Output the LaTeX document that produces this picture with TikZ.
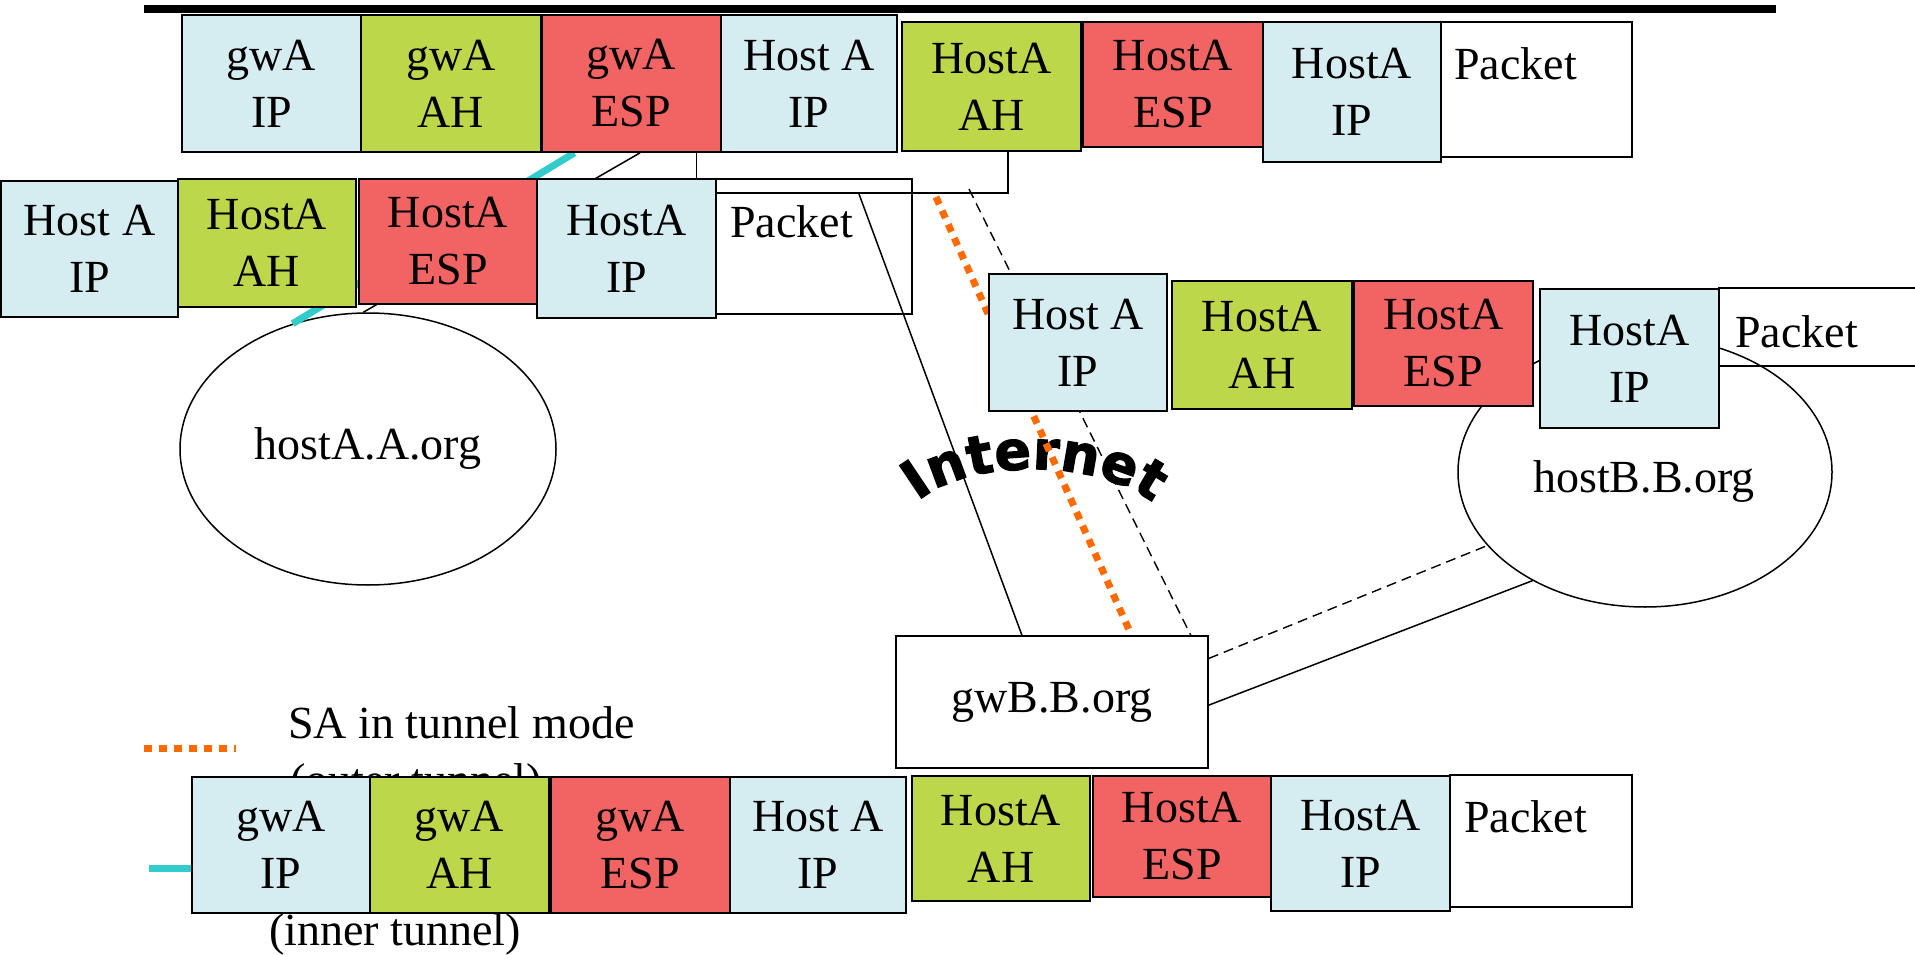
\documentclass[tikz,border=0pt]{standalone}
\usepackage{fontspec}
\setmainfont{Liberation Serif}
\newfontfamily\inetfam{DejaVu Sans}[FakeBold=2.2]
\usetikzlibrary{shapes.geometric,calc,decorations.text}
\definecolor{ipblue}{HTML}{D5ECF0}
\definecolor{ahgreen}{HTML}{BCD84A}
\definecolor{espred}{HTML}{F26464}
\definecolor{tunorange}{HTML}{FF6A00}
\definecolor{tuncyan}{HTML}{33CCCC}
\newcommand\cfont{\fontsize{46}{57}\selectfont}
\newcommand\inetstyle{\inetfam\bfseries\fontsize{54}{60}\selectfont}
\newcommand\pcell[7]{\node[#6, minimum width={#4-#2}, minimum height={#5-#3}] (#1) at ({(#2+#4)/2},{(#3+#5)/2}) {#7};}
\tikzset{
  cellbase/.style={draw, line width=1.8pt, inner sep=0pt, align=center, font=\cfont, text=black},
  ipc/.style={cellbase, fill=ipblue},
  ahc/.style={cellbase, fill=ahgreen},
  espc/.style={cellbase, fill=espred},
  pkc/.style={cellbase},
  pktext/.style={anchor=base west, inner sep=0pt, font=\cfont},
  legtext/.style={anchor=base west, inner sep=0pt, font=\cfont},
  hostell/.style={ellipse, draw, line width=1.5pt, inner sep=0pt, font=\cfont},
  gwbox/.style={rectangle, draw, line width=1.8pt, fill=white, inner sep=0pt, font=\cfont},
  thin/.style={line width=1.5pt},
  thindash/.style={line width=1.4pt, dash pattern=on 10pt off 6pt},
  outer/.style={line width=7pt, tunorange, dash pattern=on 8pt off 7pt},
  inner/.style={line width=7pt, tuncyan}
}
\begin{document}
\begin{tikzpicture}[x=1pt, y=-1pt]
\useasboundingbox (0,0) rectangle (1915,955);
% top bar
\coordinate (bar1) at (144,9);
\coordinate (bar2) at (1776,9);
\draw[line width=8pt] (bar1) -- (bar2);

% legend texts
\node[legtext] (legO1) at (288,738) {SA in tunnel mode};
\node[legtext] (legO2) at (290,795) {(outer tunnel)};
\node[legtext] (legI) at (269,945) {(inner tunnel)};
\coordinate (lo1) at (144,748);
\coordinate (lo2) at (236,748);
\draw[outer] (lo1) -- (lo2);
\coordinate (lc1) at (149,868);
\coordinate (lc2) at (205,868);
\draw[inner] (lc1) -- (lc2);

% hosts
\node[hostell, minimum width=376pt, minimum height=272pt] (hostA) at (368,449) {hostA.A.org};
\node[hostell, minimum width=374pt, minimum height=270pt] (hostB) at (1645,472) {};
\node[font=\cfont, inner sep=0pt] (hostBt) at (1644,482) {hostB.B.org};

% gateway B
\node[gwbox, minimum width=312pt, minimum height=132pt] (gwB) at (1052,702) {gwB.B.org};

% Internet label
\path[decorate, decoration={text along path, text={|\inetstyle|Internet}, text align=center}]
  (908,512) .. controls (945,460) and (1100,450) .. (1164,512);

% invisible copies of the boxes the connectors start from
\begin{scope}[opacity=0]
\pcell{tgESP}{542}{15}{721}{152}{cellbase}{}
\pcell{thAH}{902}{22}{1081}{151}{cellbase}{}
\pcell{mhIP2}{537}{179}{716}{318}{cellbase}{}
\end{scope}

% connectors (behind boxes)
\draw[inner] ($(tgESP.south west)!0.184!(tgESP.south east)$) -- (hostA.121);
\draw[thin] ($(tgESP.south west)!0.547!(tgESP.south east)$) -- (hostA.92);
\coordinate (v1) at ($(tgESP.south west)!0.86!(tgESP.south east)$);
\draw[thin] (v1) -- (v1 |- mhIP2.north);
\coordinate (v2) at ($(thAH.south west)!0.59!(thAH.south east)$);
\coordinate (c193) at (717,193);
\draw[thin] (v2) |- (c193);
\coordinate (s1) at (859,194);
\draw[thin] (s1) -- ($(gwB.north west)!0.404!(gwB.north east)$);
\coordinate (o1) at (936,197);
\draw[outer] (o1) -- ($(gwB.north west)!0.753!(gwB.north east)$);
\coordinate (d1) at (969,189);
\draw[thindash] (d1) -- ($(gwB.north west)!0.942!(gwB.north east)$);
\draw[thindash] ($(gwB.north east)!0.174!(gwB.south east)$) -- (hostB.205);
\draw[thin] ($(gwB.north east)!0.523!(gwB.south east)$) -- (hostB.224);

% top row
\pcell{tgIP}{182}{15}{361}{152}{ipc}{gwA\\IP}
\pcell{tgAH}{361}{15}{541}{152}{ahc}{gwA\\AH}
\pcell{tgESP}{542}{15}{721}{152}{espc}{gwA\\ESP}
\pcell{thIP}{721}{15}{897}{152}{ipc}{Host A\\IP}
\pcell{thAH}{902}{22}{1081}{151}{ahc}{HostA\\AH}
\pcell{thESP}{1083}{22}{1263}{147}{espc}{HostA\\ESP}
\pcell{thIP2}{1263}{22}{1441}{162}{ipc}{HostA\\IP}
\pcell{tPk}{1441}{22}{1632}{157}{pkc}{}
\node[pktext] (tPkT) at (1454,80) {Packet};

% middle row (left)
\pcell{mhIP}{1}{181}{178}{317}{ipc}{Host A\\IP}
\pcell{mhAH}{178}{179}{356}{307}{ahc}{HostA\\AH}
\pcell{mhESP}{359}{179}{537}{304}{espc}{HostA\\ESP}
\pcell{mhIP2}{537}{179}{716}{318}{ipc}{HostA\\IP}
\pcell{mPk}{716}{179}{912}{314}{pkc}{}
\node[pktext] (mPkT) at (730,237) {Packet};

% right row
\pcell{rhIP}{989}{274}{1167}{411}{ipc}{Host A\\IP}
\pcell{rhAH}{1172}{281}{1352}{409}{ahc}{HostA\\AH}
\pcell{rhESP}{1354}{281}{1533}{406}{espc}{HostA\\ESP}
\pcell{rhIP2}{1540}{289}{1719}{428}{ipc}{HostA\\IP}
\pcell{rPk}{1719}{288}{1930}{366}{pkc}{}
\node[pktext] (rPkT) at (1735,347) {Packet};

% bottom row
\pcell{bgIP}{192}{777}{370}{913}{ipc}{gwA\\IP}
\pcell{bgAH}{370}{777}{549}{913}{ahc}{gwA\\AH}
\pcell{bgESP}{551}{777}{730}{913}{espc}{gwA\\ESP}
\pcell{bhIP}{730}{777}{906}{913}{ipc}{Host A\\IP}
\pcell{bhAH}{912}{776}{1090}{901}{ahc}{HostA\\AH}
\pcell{bhESP}{1093}{776}{1271}{897}{espc}{HostA\\ESP}
\pcell{bhIP2}{1271}{776}{1450}{911}{ipc}{HostA\\IP}
\pcell{bPk}{1450}{775}{1632}{907}{pkc}{}
\node[pktext] (bPkT) at (1464,832) {Packet};
\end{tikzpicture}
\end{document}
